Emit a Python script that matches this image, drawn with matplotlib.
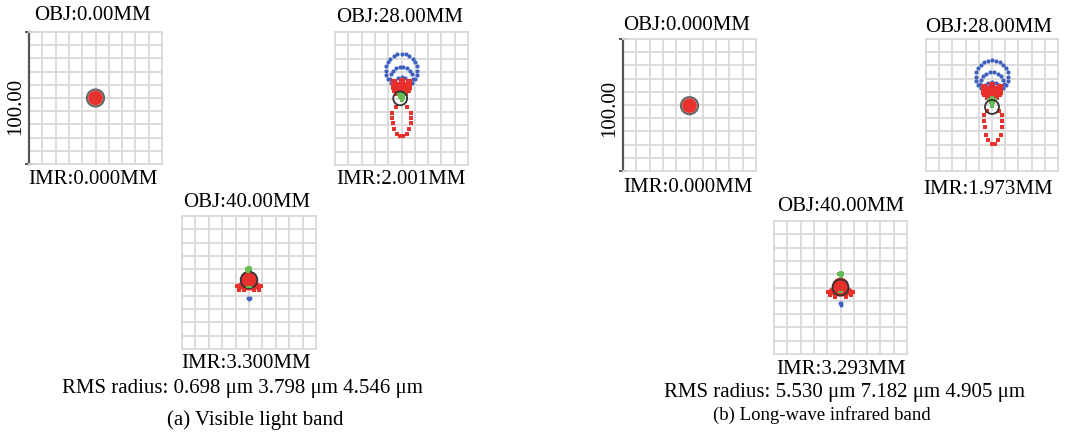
import numpy as np
import matplotlib.pyplot as plt
from matplotlib.patches import Circle, Ellipse

plt.rcParams['font.family'] = ['Liberation Serif', 'DejaVu Serif']

W, H = 1067, 437

RED = '#e8312c'
BLUE = '#3f5fbf'
GREEN = '#66bb55'
DARK = '#333333'
GRID = '#d9d9d9'

# ---- spot data, all in um, box spans -50..50 (scale bar 100.00) ----
# field 0 mm : filled spot + airy circle  (cx, cy, r_spot, r_airy)
VIS0_SPOT = (0.0, 0.0, 5.5, 6.4)
IR0_SPOT = (0.0, -0.5, 5.5, 6.4)

# field 28 mm, visible
VIS28_BLUE_OUT_X = [10.4, 11.6, 12.0, 11.6, 10.4, 8.5, 6.0, 3.1, 0.0, -3.1, -6.0, -8.5, -10.4, -11.6, -12.0, -11.6, -10.4]
VIS28_BLUE_OUT_Y = [14.8, 17.8, 21.0, 24.2, 27.3, 29.8, 31.8, 33.1, 33.5, 33.1, 31.8, 29.8, 27.3, 24.2, 21.0, 17.8, 14.8]
VIS28_BLUE_MID_X = [8.0, 8.5, 8.0, 6.5, 4.3, 1.5, -1.5, -4.3, -6.5, -8.0, -8.5, -8.0]
VIS28_BLUE_MID_Y = [11.9, 15.0, 18.1, 20.8, 22.8, 23.9, 23.9, 22.8, 20.8, 18.1, 15.0, 11.9]
VIS28_BLUE_IN_X = [5.3, 5.5, 4.8, 2.8, 0.0, -2.8, -4.8, -5.5, -5.3]
VIS28_BLUE_IN_Y = [9.1, 10.5, 13.3, 15.3, 16.0, 15.3, 13.3, 10.5, 9.1]
VIS28_STAR_X = [-6, 0, 6, -6, -4, -2, 0, 2, 4, 6, -6, -4, -2, 0, 2, 4, 6, -5, -3, -1, 1, 3, 5, -3, -1, 1, 3]
VIS28_STAR_Y = [12.5, 13.5, 12.5, 10.5, 10.5, 10.5, 10.5, 10.5, 10.5, 10.5, 8.5, 8.5, 8.5, 8.5, 8.5, 8.5, 8.5,
                6.5, 6.5, 6.5, 6.5, 6.5, 6.5, 4.5, 4.5, 4.5, 4.5]
VIS28_GREEN_X = [-2.0, 0.0, 2.0, -1.0, 1.0, 0.0]
VIS28_GREEN_Y = [3.5, 4.5, 3.5, 1.5, 1.5, -1.0]
VIS28_RED_U_X = [-4.0, -6.8, -6.8, -6.6, -5.6, -3.5, -1.0, 1.5, 4.0, 6.0, 7.0, 7.2, 7.2, 4.5]
VIS28_RED_U_Y = [-6.5, -11.0, -14.5, -18.5, -23.0, -26.5, -28.5, -28.5, -26.5, -23.0, -18.5, -14.5, -11.0, -6.5]
VIS28_AIRY = (-1.0, 0.1, 5.2)

# field 28 mm, long-wave infrared
IR28_BLUE_OUT_X = [10.6, 11.8, 12.3, 11.8, 10.6, 8.7, 6.1, 3.2, 0.0, -3.2, -6.1, -8.7, -10.6, -11.8, -12.3, -11.8, -10.6]
IR28_BLUE_OUT_Y = [15.3, 18.3, 21.5, 24.7, 27.8, 30.3, 32.3, 33.6, 34.0, 33.6, 32.3, 30.3, 27.8, 24.7, 21.5, 18.3, 15.3]
IR28_BLUE_MID_X = [8.4, 9.0, 8.4, 6.9, 4.5, 1.6, -1.6, -4.5, -6.9, -8.4, -9.0, -8.4]
IR28_BLUE_MID_Y = [13.0, 16.0, 19.1, 21.8, 23.8, 24.9, 24.9, 23.8, 21.8, 19.1, 16.0, 13.0]
IR28_BLUE_IN_X = [5.6, 5.8, 5.0, 2.9, 0.0, -2.9, -5.0, -5.8, -5.6]
IR28_BLUE_IN_Y = [10.6, 12.0, 14.9, 17.0, 17.8, 17.0, 14.9, 12.0, 10.6]
IR28_STAR_X = [-6, 0, 6, -6, -4, -2, 0, 2, 4, 6, -6, -4, -2, 0, 2, 4, 6, -5, -3, -1, 1, 3, 5, -3, -1, 1, 3]
IR28_STAR_Y = [14.0, 15.0, 14.0, 12.0, 12.0, 12.0, 12.0, 12.0, 12.0, 12.0, 10.0, 10.0, 10.0, 10.0, 10.0, 10.0, 10.0,
               8.0, 8.0, 8.0, 8.0, 8.0, 8.0, 6.0, 6.0, 6.0, 6.0]
IR28_GREEN_X = [-2.0, 0.0, 2.0, -1.0, 1.0, 0.0]
IR28_GREEN_Y = [4.0, 5.0, 4.0, 2.0, 2.0, -0.5]
IR28_RED_U_X = [-3.5, -5.8, -5.8, -5.6, -4.8, -2.8, -0.3, 2.2, 4.7, 6.6, 7.3, 7.4, 7.4, 5.0]
IR28_RED_U_Y = [-4.5, -7.6, -12.0, -17.0, -22.5, -26.8, -29.5, -29.5, -26.8, -22.5, -17.0, -12.0, -7.6, -4.5]
IR28_AIRY = (0.0, -1.5, 5.3)

# field 40 mm : blob ellipses (cx, cy, w, h), airy, green/blue marks
VIS40_BLOB = [(0.0, 1.8, 12.5, 12.5), (0.0, -2.5, 18.0, 7.0)]
VIS40_EDGE_X = [-9.0, -7.5, 7.5, 9.0, -4.0, 4.0]
VIS40_EDGE_Y = [-3.0, -5.3, -5.3, -3.0, -6.0, -6.0]
VIS40_AIRY = (0.0, 1.9, 6.2)
VIS40_GREEN_X = [-1.5, 0.0, 1.0, -0.5]
VIS40_GREEN_Y = [10.0, 10.8, 9.8, 9.0]
VIS40_DASH = (0.0, -3.4)
VIS40_BLUE_X = [0.0, -0.6, 0.6]
VIS40_BLUE_Y = [-12.4, -11.4, -11.4]

IR40_BLOB = [(0.0, 1.2, 12.5, 12.5), (0.0, -3.0, 19.0, 7.5)]
IR40_EDGE_X = [-9.5, -8.0, 8.0, 9.5, -4.0, 4.0]
IR40_EDGE_Y = [-3.5, -6.0, -6.0, -3.5, -6.8, -6.8]
IR40_AIRY = (0.0, 0.0, 6.0)
IR40_GREEN_X = [-1.0, 0.0, 1.0, 0.0]
IR40_GREEN_Y = [10.0, 11.0, 10.0, 9.0]
IR40_DASH = (0.0, -3.4)
IR40_BLUE_X = [0.0, -0.6, 0.6]
IR40_BLUE_Y = [-13.0, -12.0, -12.0]

fig = plt.figure(figsize=(W / 100, H / 100), dpi=100)


def box_axes(x0, y0, x1, y1):
    return fig.add_axes([x0 / W, 1 - y1 / H, (x1 - x0) / W, (y1 - y0) / H])


def draw_grid(ax, scale_bar=False):
    ax.set_xlim(-50, 50)
    ax.set_ylim(-50, 50)
    ticks = np.arange(-40, 41, 10)
    ax.set_xticks(ticks)
    ax.set_yticks(ticks)
    ax.tick_params(length=0, labelbottom=False, labelleft=False)
    ax.grid(True, color=GRID, lw=1.3)
    ax.set_axisbelow(True)
    for s in ax.spines.values():
        s.set_color(GRID)
        s.set_linewidth(1.3)
    if scale_bar:
        ax.spines['left'].set_color('#555555')
        ax.spines['left'].set_linewidth(1.6)
        ax.plot([-52, -48], [50, 50], color='#555555', lw=1.4, clip_on=False)
        ax.plot([-52, -48], [-50, -50], color='#555555', lw=1.4, clip_on=False)


def draw_center(ax, spot):
    cx, cy, r, ra = spot
    ax.add_patch(Circle((cx, cy), ra, facecolor='none', edgecolor='#666666', lw=1.6))
    ax.add_patch(Circle((cx, cy), r, facecolor=RED, edgecolor='none'))


def draw_28(ax, ox, oy, mx, my, ix, iy, sx, sy, gx, gy, ux, uy, airy):
    ax.scatter(ox, oy, s=9, color=BLUE, lw=0)
    ax.scatter(mx, my, s=9, color=BLUE, lw=0)
    ax.scatter(ix, iy, s=9, color=BLUE, lw=0)
    ax.scatter(sx, sy, s=22, marker='s', color=RED, lw=0)
    ax.scatter(gx, gy, s=10, marker='s', color=GREEN, lw=0)
    ax.scatter(ux, uy, s=11, marker='s', color=RED, lw=0)
    ax.add_patch(Circle(airy[:2], airy[2], facecolor='none', edgecolor=DARK, lw=1.3))


def draw_40(ax, blob, ex, ey, airy, gx, gy, dash, bx, by):
    for cx, cy, w, h in blob:
        ax.add_patch(Ellipse((cx, cy), w, h, facecolor=RED, edgecolor='none'))
    ax.scatter(ex, ey, s=8, marker='s', color=RED, lw=0)
    ax.add_patch(Circle(airy[:2], airy[2], facecolor='none', edgecolor=DARK, lw=1.3))
    ax.scatter(gx, gy, s=12, marker='s', color=GREEN, lw=0)
    ax.plot([dash[0] - 1.2, dash[0] + 1.2], [dash[1], dash[1]], color=GREEN, lw=1.5)
    ax.scatter(bx, by, s=8, color=BLUE, lw=0)


# ---- (a) visible ----
ax = box_axes(29, 32, 162, 164)
draw_grid(ax, scale_bar=True)
draw_center(ax, VIS0_SPOT)

ax = box_axes(335, 32, 468, 165)
draw_grid(ax)
draw_28(ax, VIS28_BLUE_OUT_X, VIS28_BLUE_OUT_Y, VIS28_BLUE_MID_X, VIS28_BLUE_MID_Y,
        VIS28_BLUE_IN_X, VIS28_BLUE_IN_Y, VIS28_STAR_X, VIS28_STAR_Y,
        VIS28_GREEN_X, VIS28_GREEN_Y, VIS28_RED_U_X, VIS28_RED_U_Y, VIS28_AIRY)

ax = box_axes(182, 216, 316, 349)
draw_grid(ax)
draw_40(ax, VIS40_BLOB, VIS40_EDGE_X, VIS40_EDGE_Y, VIS40_AIRY, VIS40_GREEN_X, VIS40_GREEN_Y,
        VIS40_DASH, VIS40_BLUE_X, VIS40_BLUE_Y)

# ---- (b) long-wave infrared ----
ax = box_axes(623, 39, 756, 171)
draw_grid(ax, scale_bar=True)
draw_center(ax, IR0_SPOT)

ax = box_axes(926, 39, 1058, 171)
draw_grid(ax)
draw_28(ax, IR28_BLUE_OUT_X, IR28_BLUE_OUT_Y, IR28_BLUE_MID_X, IR28_BLUE_MID_Y,
        IR28_BLUE_IN_X, IR28_BLUE_IN_Y, IR28_STAR_X, IR28_STAR_Y,
        IR28_GREEN_X, IR28_GREEN_Y, IR28_RED_U_X, IR28_RED_U_Y, IR28_AIRY)

ax = box_axes(774, 221, 907, 354)
draw_grid(ax)
draw_40(ax, IR40_BLOB, IR40_EDGE_X, IR40_EDGE_Y, IR40_AIRY, IR40_GREEN_X, IR40_GREEN_Y,
        IR40_DASH, IR40_BLUE_X, IR40_BLUE_Y)


# ---- text ----
def ptext(x, y, s, size=15, **kw):
    fig.text(x / W, 1 - y / H, s, ha='center', va='center', fontsize=size, **kw)


ptext(92, 16, 'OBJ:0.00MM')
ptext(93, 179, 'IMR:0.000MM')
ptext(16, 106, '100.00', rotation=90)
ptext(400, 17, 'OBJ:28.00MM')
ptext(401, 179, 'IMR:2.001MM')
ptext(247, 203, 'OBJ:40.00MM')
ptext(246, 364, 'IMR:3.300MM')
ptext(242, 388, 'RMS radius: 0.698 μm 3.798 μm 4.546 μm')
ptext(255, 420, '(a) Visible light band')

ptext(687, 26, 'OBJ:0.000MM')
ptext(688, 187, 'IMR:0.000MM')
ptext(610, 108, '100.00', rotation=90)
ptext(989, 27, 'OBJ:28.00MM')
ptext(988, 189, 'IMR:1.973MM')
ptext(841, 207, 'OBJ:40.00MM')
ptext(841, 370, 'IMR:3.293MM')
ptext(845, 392, 'RMS radius: 5.530 μm 7.182 μm 4.905 μm')
ptext(822, 415, '(b) Long-wave infrared band', size=13.5)

fig.savefig('out.png', dpi=100)
